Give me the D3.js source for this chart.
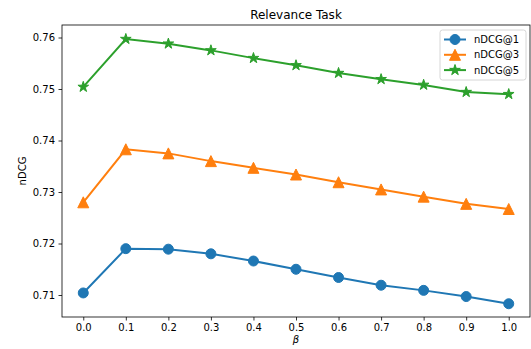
<!DOCTYPE html>
<html>
<head>
<meta charset="utf-8">
<script src="https://cdn.jsdelivr.net/npm/d3@7"></script>
<style>
  body { margin: 0; background: #fff; }
  text { font-family: "DejaVu Sans", sans-serif; fill: #000; }
</style>
</head>
<body>
<script>
"use strict";

// Data
let betas = [0.0, 0.1, 0.2, 0.3, 0.4, 0.5, 0.6, 0.7, 0.8, 0.9, 1.0];
let ndcg1 = [0.7104, 0.7190, 0.7189, 0.7180, 0.7166, 0.7150, 0.7134, 0.7119, 0.7109, 0.7097, 0.7083];
let ndcg3 = [0.7280, 0.7383, 0.7375, 0.7360, 0.7347, 0.7334, 0.7319, 0.7305, 0.7291, 0.7277, 0.7267];
let ndcg5 = [0.7504, 0.7597, 0.7588, 0.7575, 0.7560, 0.7546, 0.7531, 0.7519, 0.7508, 0.7494, 0.7490];
let seriesNames = ["nDCG@1", "nDCG@3", "nDCG@5"];
let xTicks = [0.0, 0.1, 0.2, 0.3, 0.4, 0.5, 0.6, 0.7, 0.8, 0.9, 1.0];
let yTicks = [0.71, 0.72, 0.73, 0.74, 0.75, 0.76];

let w = 531;
let h = 349;
let m = {left: 62, top: 25, right: 1, bottom: 32};

let colors = ["#1f77b4", "#ff7f0e", "#2ca02c"];
let shapes = ["circle", "triangle", "star"];
let sizes = {circle: 5, triangle: 5.5, star: 5.6};

// marker path, centred on 0,0
function markerPath(shape, s) {
    if (shape == "circle") {
        return d3.arc()({innerRadius: 0, outerRadius: s, startAngle: 0, endAngle: 2 * Math.PI});
    }
    if (shape == "triangle") {
        return `M0,${-s}L${s},${s}L${-s},${s}Z`;
    }
    // 5 point star like matplotlib's
    let pts = [];
    let inner = s * 0.381966;
    for (let i = 0; i < 10; i++) {
        let r = i % 2 == 0 ? s : inner;
        let a = Math.PI / 5 * i;
        pts.push([r * Math.sin(a), -r * Math.cos(a)]);
    }
    return "M" + pts.map(p => p.join(",")).join("L") + "Z";
}

let svg = d3.select("body").append("svg")
    .attr("width", w)
    .attr("height", h);

let x = d3.scaleLinear().domain([-0.05, 1.05]).range([m.left, w - m.right]);
let y = d3.scaleLinear().domain([0.70573, 0.76243]).range([h - m.bottom, m.top]);

let xAxis = svg.append("g")
    .attr("transform", `translate(0,${h - m.bottom})`)
    .call(d3.axisBottom(x).tickValues(xTicks).tickFormat(d3.format(".1f")).tickSizeOuter(0).tickSize(3.5).tickPadding(3.5));
let yAxis = svg.append("g")
    .attr("transform", `translate(${m.left},0)`)
    .call(d3.axisLeft(y).tickValues(yTicks).tickFormat(d3.format(".2f")).tickSizeOuter(0).tickSize(3.5).tickPadding(3.5));
[xAxis, yAxis].forEach(a => {
    a.select(".domain").remove();
    a.selectAll("text").style("font-family", "DejaVu Sans").attr("font-size", 10).attr("fill", "#000");
    a.selectAll("line").attr("stroke", "#000").attr("stroke-width", 0.8);
});

let series = [ndcg1, ndcg3, ndcg5];
let line = d3.line().x((d, i) => x(betas[i])).y(d => y(d));

series.forEach((vals, k) => {
    svg.append("path")
        .attr("d", line(vals))
        .attr("fill", "none")
        .attr("stroke", colors[k])
        .attr("stroke-width", 2);
    svg.append("g").selectAll("path")
        .data(vals)
        .enter().append("path")
        .attr("transform", (d, i) => `translate(${x(betas[i])},${y(d)})`)
        .attr("d", markerPath(shapes[k], sizes[shapes[k]]))
        .attr("fill", colors[k])
        .attr("stroke", colors[k])
        .attr("stroke-width", 1);
});

// frame
svg.append("rect")
    .attr("x", m.left).attr("y", m.top)
    .attr("width", w - m.right - m.left).attr("height", h - m.bottom - m.top)
    .attr("fill", "none").attr("stroke", "#000").attr("stroke-width", 0.8);

// title and labels
svg.append("text")
    .attr("x", (m.left + w - m.right) / 2).attr("y", 19)
    .attr("text-anchor", "middle").attr("font-size", 12)
    .text("Relevance Task");
svg.append("text")
    .attr("transform", `translate(26,${(m.top + h - m.bottom) / 2}) rotate(-90)`)
    .attr("text-anchor", "middle").attr("font-size", 10)
    .text("nDCG");
svg.append("text")
    .attr("x", (m.left + w - m.right) / 2).attr("y", 343)
    .attr("text-anchor", "middle").attr("font-size", 10).attr("font-style", "italic")
    .text("β");

// legend
let lg = svg.append("g").attr("transform", "translate(440,30)");
lg.append("rect")
    .attr("width", 86).attr("height", 50).attr("rx", 2.5)
    .attr("fill", "#fff").attr("fill-opacity", 0.8)
    .attr("stroke", "#ccc").attr("stroke-width", 0.8);
seriesNames.forEach((name, k) => {
    let yy = 9.5 + k * 15.3;
    lg.append("line")
        .attr("x1", 4).attr("x2", 26).attr("y1", yy).attr("y2", yy)
        .attr("stroke", colors[k]).attr("stroke-width", 2);
    lg.append("path")
        .attr("transform", `translate(15,${yy})`)
        .attr("d", markerPath(shapes[k], sizes[shapes[k]]))
        .attr("fill", colors[k]).attr("stroke", colors[k]).attr("stroke-width", 1);
    lg.append("text")
        .attr("x", 34).attr("y", yy + 3.6)
        .attr("font-size", 10)
        .text(name);
});
</script>
</body>
</html>
